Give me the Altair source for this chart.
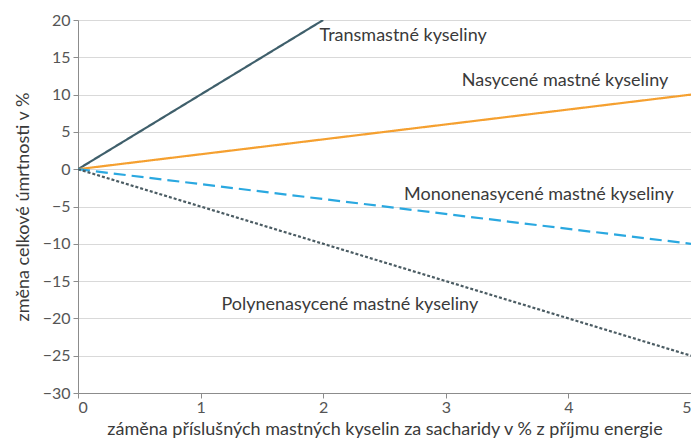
import altair as alt
import pandas as pd

series = ["Transmastné kyseliny", "Nasycené mastné kyseliny",
          "Mononenasycené mastné kyseliny", "Polynenasycené mastné kyseliny"]
x_start = [0, 0, 0, 0]
y_start = [0, 0, 0, 0]
x_end = [2, 5, 5, 5]
y_end = [20, 10, -10, -25]
colors = ["#3f5f6b", "#f5a030", "#2aa8e0", "#4b5c63"]
dashes = [[1, 0], [1, 0], [12, 6], [3, 2]]

label_x = [1.97, 3.13, 2.66, 1.17]
label_y = [17.8, 11.8, -3.4, -18.2]

y_ticks = list(range(-30, 25, 5))
x_ticks = [0, 1, 2, 3, 4, 5]

rows = []
for i, s in enumerate(series):
    rows.append({"s": s, "x": x_start[i], "y": y_start[i], "o": 0})
    rows.append({"s": s, "x": x_end[i], "y": y_end[i], "o": 1})
df = pd.DataFrame(rows)
lab = pd.DataFrame({"s": series, "x": label_x, "y": label_y})

FONT = "Lato"
xs = alt.Scale(domain=[0, 5], nice=False)
ys = alt.Scale(domain=[-30, 20], nice=False)
x_axis = alt.Axis(
    title="záměna příslušných mastných kyselin za sacharidy v % z příjmu energie",
    values=x_ticks, grid=False, format="d")
y_axis = alt.Axis(title="změna celkové úmrtnosti v %", values=y_ticks, format="d")

lines = alt.Chart(df).mark_line(strokeWidth=2.2, clip=True).encode(
    x=alt.X("x:Q", scale=xs, axis=x_axis),
    y=alt.Y("y:Q", scale=ys, axis=y_axis),
    color=alt.Color("s:N", scale=alt.Scale(domain=series, range=colors), legend=None),
    strokeDash=alt.StrokeDash("s:N", scale=alt.Scale(domain=series, range=dashes), legend=None),
    order="o:Q",
)

texts = alt.Chart(lab).mark_text(
    align="left", baseline="middle", font=FONT, fontSize=18, color="#3a3a3a"
).encode(
    x=alt.X("x:Q", scale=xs, axis=x_axis),
    y=alt.Y("y:Q", scale=ys, axis=y_axis),
    text="s:N",
)

chart = alt.layer(lines, texts).properties(
    width=613, height=373,
    autosize=alt.AutoSizeParams(type="none"),
    padding={"left": 70, "top": 12, "right": 0, "bottom": 49},
).configure_view(stroke=None).configure_axis(
    labelFont=FONT, titleFont=FONT, labelFontSize=16, titleFontSize=18,
    labelColor="#555555", titleColor="#3a3a3a", titleFontWeight="normal",
    domainColor="#8c8c8c", tickColor="#8c8c8c", tickSize=5,
    gridColor="#d9d9d9", gridWidth=1, labelOverlap=False,
).configure_axisX(
    labelPadding=1, titlePadding=5,
).configure_axisY(
    labelPadding=3, titlePadding=10,
)

chart.save("out.html", embed_options={"renderer": "svg", "actions": False})
